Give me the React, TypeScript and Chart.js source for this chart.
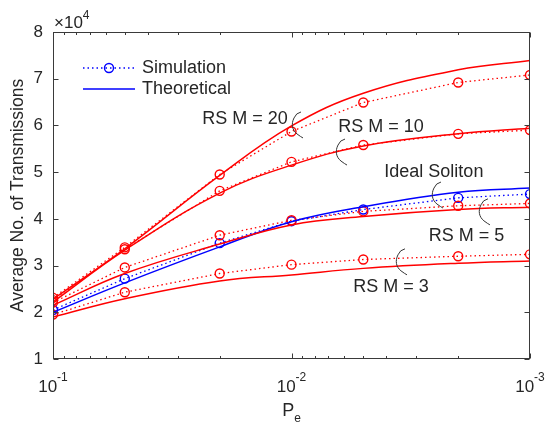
import React, { useEffect, useRef } from 'react';
import { Chart, registerables } from 'chart.js';

Chart.register(...registerables);

// ---------------- data ----------------
const pe = [0.1, 0.05, 0.02, 0.01, 0.005, 0.002, 0.001];

const simM20 = [2.31, 3.39, 4.95, 5.87, 6.49, 6.92, 7.08];
const simM10 = [2.26, 3.35, 4.6, 5.22, 5.58, 5.82, 5.9];
const simM5 = [2.21, 2.96, 3.65, 3.97, 4.16, 4.28, 4.33];
const simIdeal = [2.05, 2.72, 3.48, 3.95, 4.2, 4.45, 4.53];
const simM3 = [1.95, 2.43, 2.83, 3.02, 3.13, 3.2, 3.24];

const theoM20 = [2.28, 3.36, 4.93, 5.99, 6.69, 7.19, 7.39];
const theoM10 = [2.22, 3.33, 4.55, 5.15, 5.56, 5.82, 5.94];
const theoM5 = [2.15, 2.83, 3.46, 3.87, 4.05, 4.2, 4.25];
const theoIdeal = [2.0, 2.63, 3.4, 3.94, 4.26, 4.57, 4.66];
const theoM3 = [1.9, 2.29, 2.67, 2.8, 2.94, 3.05, 3.1];

const yTickValues = [1, 2, 3, 4, 5, 6, 7, 8];
const xTickValues = [0.1, 0.01, 0.001];
const xTickExponents = ['-1', '-2', '-3'];

const legendLabels = ['Simulation', 'Theoretical'];

const annotationTexts = ['RS M = 20', 'RS M = 10', 'Ideal Soliton', 'RS M = 5', 'RS M = 3'];
const annotationPe = [0.01567, 0.004217, 0.00253, 0.001845, 0.00383];
const annotationVal = [6.14, 5.97, 5.0, 3.63, 2.54];

const bracePe = [0.00948, 0.0062, 0.002455, 0.00156, 0.003475];
const braceVal = [6.01, 5.43, 4.51, 4.15, 3.08];

// ---------------- styles ----------------
const FONT = '"Liberation Sans", Arial, Helvetica, sans-serif';
const TEXT = '#262626';
const AXIS = '#3a3a3a';
const RED = '#ff0000';
const BLUE = '#0000ff';

const toXY = (vals: number[]) => vals.map((v, i) => ({ x: pe[i], y: v }));

function simDataset(label: string, vals: number[], color: string) {
  return {
    label,
    data: toXY(vals),
    borderColor: color,
    backgroundColor: 'rgba(0,0,0,0)',
    borderWidth: 1.3,
    borderDash: [1.5, 3],
    pointStyle: 'circle',
    pointRadius: 4.5,
    pointBorderWidth: 1.4,
    pointBorderColor: color,
    pointBackgroundColor: 'rgba(0,0,0,0)',
    tension: 0,
    fill: false,
  };
}

function theoDataset(label: string, vals: number[], color: string) {
  return {
    label,
    data: toXY(vals),
    borderColor: color,
    backgroundColor: 'rgba(0,0,0,0)',
    borderWidth: 1.5,
    pointRadius: 0,
    tension: 0.4,
    fill: false,
  };
}

function drawBrace(ctx: CanvasRenderingContext2D, cx: number, cy: number) {
  const h = 26;
  const top = cy - h / 2;
  const bot = cy + h / 2;
  ctx.beginPath();
  ctx.moveTo(cx + 4, top);
  ctx.quadraticCurveTo(cx - 1, top + 1, cx - 3, top + 6);
  ctx.bezierCurveTo(cx - 6, top + 12, cx - 5, bot - 8, cx, bot - 4);
  ctx.quadraticCurveTo(cx + 4, bot - 1, cx + 6, bot);
  ctx.stroke();
}

const framePlugin = {
  id: 'matlabFrame',
  afterDatasetsDraw(chart: any) {
    const { ctx, chartArea: a, scales } = chart;
    const x = scales.x;
    const y = scales.y;
    ctx.save();
    ctx.strokeStyle = AXIS;
    ctx.lineWidth = 1;
    const L = Math.round(a.left) + 0.5;
    const R = Math.round(a.right) - 0.5;
    const T = Math.round(a.top) + 0.5;
    const B = Math.round(a.bottom) - 0.5;
    ctx.strokeRect(L, T, R - L, B - T);

    ctx.beginPath();
    for (const v of yTickValues) {
      const py = Math.round(y.getPixelForValue(v)) + 0.5;
      ctx.moveTo(L, py);
      ctx.lineTo(L + 5, py);
      ctx.moveTo(R, py);
      ctx.lineTo(R - 5, py);
    }
    for (let d = -3; d <= -1; d++) {
      for (let m = 1; m <= 9; m++) {
        const v = m * Math.pow(10, d);
        if (v < 0.001 * 0.999 || v > 0.1 * 1.001) continue;
        const px = Math.round(x.getPixelForValue(v)) + 0.5;
        const len = m === 1 ? 5 : 2.5;
        ctx.moveTo(px, B);
        ctx.lineTo(px, B - len);
        ctx.moveTo(px, T);
        ctx.lineTo(px, T + len);
      }
    }
    ctx.stroke();
    ctx.restore();
  },
  afterDraw(chart: any) {
    const { ctx, chartArea: a, scales } = chart;
    const x = scales.x;
    const y = scales.y;
    ctx.save();
    ctx.fillStyle = TEXT;

    // x tick labels with superscripts
    xTickValues.forEach((v, i) => {
      const px = x.getPixelForValue(v);
      ctx.font = `17px ${FONT}`;
      const wb = ctx.measureText('10').width;
      ctx.font = `12px ${FONT}`;
      const we = ctx.measureText(xTickExponents[i]).width;
      const start = px - (wb + we) / 2;
      ctx.textAlign = 'left';
      ctx.textBaseline = 'alphabetic';
      ctx.font = `17px ${FONT}`;
      ctx.fillText('10', start, a.bottom + 33);
      ctx.font = `12px ${FONT}`;
      ctx.fillText(xTickExponents[i], start + wb, a.bottom + 22);
    });

    // x axis title P_e
    const cxTitle = (a.left + a.right) / 2;
    ctx.font = `18px ${FONT}`;
    const wP = ctx.measureText('P').width;
    ctx.font = `12px ${FONT}`;
    const wE = ctx.measureText('e').width;
    const sx = cxTitle - (wP + wE) / 2;
    ctx.font = `18px ${FONT}`;
    ctx.fillText('P', sx, a.bottom + 57);
    ctx.font = `12px ${FONT}`;
    ctx.fillText('e', sx + wP, a.bottom + 63);

    // exponent ×10^4
    ctx.font = `17px ${FONT}`;
    ctx.fillText('\u00d710', a.left + 1, a.top - 4);
    const w10 = ctx.measureText('\u00d710').width;
    ctx.font = `12px ${FONT}`;
    ctx.fillText('4', a.left + 1 + w10, a.top - 13);

    // y axis title
    ctx.save();
    ctx.translate(18, (a.top + a.bottom) / 2);
    ctx.rotate(-Math.PI / 2);
    ctx.textAlign = 'center';
    ctx.textBaseline = 'middle';
    ctx.font = `17.5px ${FONT}`;
    ctx.fillText('Average No. of Transmissions', 0, 0);
    ctx.restore();

    // legend
    const lx0 = a.left + 30;
    const lx1 = a.left + 82;
    const ly0 = a.top + 36;
    const ly1 = a.top + 57;
    ctx.strokeStyle = BLUE;
    ctx.lineWidth = 1.3;
    ctx.setLineDash([1.5, 3]);
    ctx.beginPath();
    ctx.moveTo(lx0, ly0);
    ctx.lineTo(lx1, ly0);
    ctx.stroke();
    ctx.setLineDash([]);
    ctx.lineWidth = 1.4;
    ctx.beginPath();
    ctx.arc((lx0 + lx1) / 2, ly0, 4.5, 0, Math.PI * 2);
    ctx.stroke();
    ctx.lineWidth = 1.5;
    ctx.beginPath();
    ctx.moveTo(lx0, ly1);
    ctx.lineTo(lx1, ly1);
    ctx.stroke();
    ctx.fillStyle = TEXT;
    ctx.font = `18px ${FONT}`;
    ctx.textAlign = 'left';
    ctx.textBaseline = 'middle';
    ctx.fillText(legendLabels[0], lx1 + 7, ly0);
    ctx.fillText(legendLabels[1], lx1 + 7, ly1);

    // annotations
    ctx.textAlign = 'center';
    ctx.textBaseline = 'middle';
    annotationTexts.forEach((t, i) => {
      ctx.fillText(t, x.getPixelForValue(annotationPe[i]), y.getPixelForValue(annotationVal[i]));
    });
    ctx.strokeStyle = '#333333';
    ctx.lineWidth = 1;
    bracePe.forEach((p, i) => {
      drawBrace(ctx, x.getPixelForValue(p), y.getPixelForValue(braceVal[i]));
    });
    ctx.restore();
  },
};

export default function App() {
  const canvasRef = useRef<HTMLCanvasElement | null>(null);

  useEffect(() => {
    document.body.style.margin = '0';
    const canvas = canvasRef.current;
    if (!canvas) return;
    const chart = new Chart(canvas, {
      type: 'line',
      data: {
        datasets: [
          theoDataset('RS M=20 theo', theoM20, RED),
          theoDataset('RS M=10 theo', theoM10, RED),
          theoDataset('RS M=5 theo', theoM5, RED),
          theoDataset('RS M=3 theo', theoM3, RED),
          theoDataset('Ideal theo', theoIdeal, BLUE),
          simDataset('RS M=20 sim', simM20, RED),
          simDataset('RS M=10 sim', simM10, RED),
          simDataset('RS M=5 sim', simM5, RED),
          simDataset('RS M=3 sim', simM3, RED),
          simDataset('Ideal sim', simIdeal, BLUE),
        ] as any,
      },
      options: {
        animation: false,
        responsive: false,
        devicePixelRatio: 1,
        layout: { padding: { left: 0, top: 32, right: 18, bottom: 0 } },
        plugins: {
          legend: { display: false },
          tooltip: { enabled: false },
          title: { display: false },
        },
        scales: {
          x: {
            type: 'logarithmic',
            reverse: true,
            min: 0.001,
            max: 0.1,
            ticks: { display: false },
            grid: { display: false, drawTicks: false },
            border: { display: false },
            afterFit: (s: any) => {
              s.height = 68;
            },
          },
          y: {
            type: 'linear',
            min: 1,
            max: 8,
            ticks: {
              stepSize: 1,
              padding: 10,
              color: TEXT,
              font: { family: FONT, size: 17 },
              callback: (v: any) => String(v),
            },
            grid: { display: false, drawTicks: false },
            border: { display: false },
            afterFit: (s: any) => {
              s.width = 53;
            },
          },
        },
      } as any,
      plugins: [framePlugin],
    });
    return () => chart.destroy();
  }, []);

  return (
    <div style={{ width: 548, height: 427, background: '#fff' }}>
      <canvas ref={canvasRef} width={548} height={427} style={{ display: 'block' }} />
    </div>
  );
}
